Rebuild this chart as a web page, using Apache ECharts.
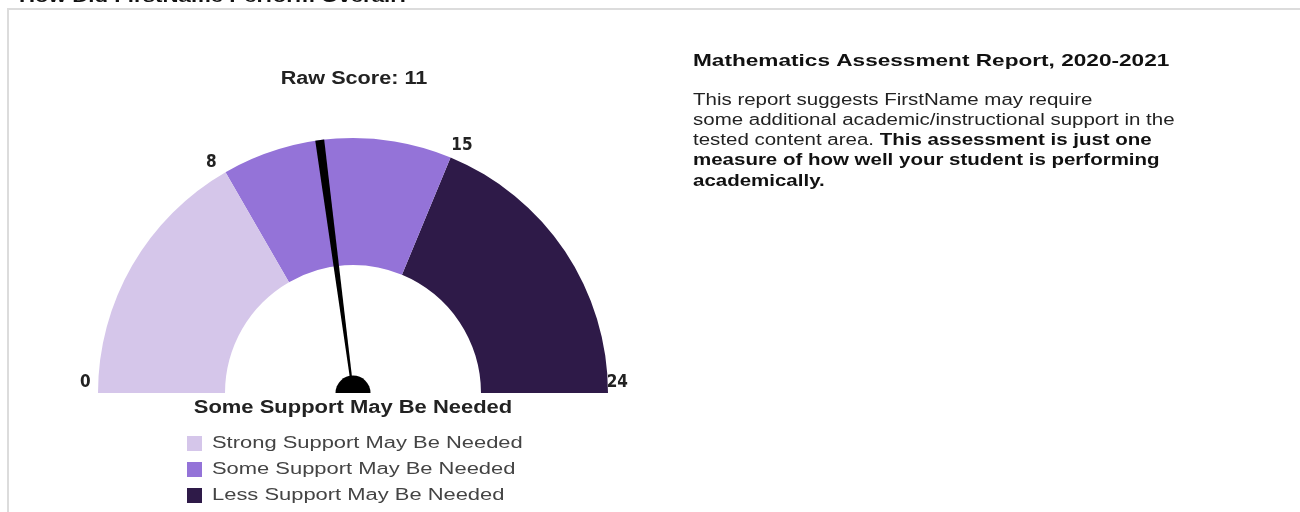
<!DOCTYPE html>
<html>
<head>
<meta charset="utf-8">
<title>How Did FirstName Perform Overall?</title>
<script src="https://cdn.jsdelivr.net/npm/echarts@6/dist/echarts.min.js"></script>
<style>
  html, body { margin: 0; padding: 0; background: #fff; }
  #chart { width: 1300px; height: 512px; }
</style>
</head>
<body>
<div id="chart"></div>
<script>
// performance bands, in score order
const categories = ['Strong Support May Be Needed', 'Some Support May Be Needed', 'Less Support May Be Needed']
const bandEdges = [0, 8, 15, 24]
const bandColors = ['#d5c6ea', '#9473d8', '#2e1a48']
const tickLabels = [0, 8, 15, 24]
const rawScore = 11

const reportTitle = 'Mathematics Assessment Report, 2020-2021'
const reportLines = [
  'This report suggests FirstName may require',
  'some additional academic/instructional support in the',
  'tested content area. {b|This assessment is just one}',
  '{b|measure of how well your student is performing}',
  '{b|academically.}'
]

const minScore = bandEdges[0]
const maxScore = bandEdges[bandEdges.length - 1]

// which band the score falls into
function bandOf(v) {
  for (let i = 1; i < bandEdges.length; i++) {
    if (v < bandEdges[i]) return i - 1
  }
  return bandEdges.length - 2
}

const sansFont = '"Liberation Sans", Arial, sans-serif'
const narrowFont = '"Liberation Sans Narrow", "DejaVu Sans Condensed", "Liberation Sans", sans-serif'

const labelStyle = { fontFamily: narrowFont, fontWeight: 'bold', fontSize: 17, color: '#222' }
const labelRich = {
  t0: Object.assign({ padding: [0, 0, 20, 21] }, labelStyle),
  t8: Object.assign({ padding: [16, 0, 0, 0] }, labelStyle),
  t15: Object.assign({ padding: [16, 7, 0, 0] }, labelStyle),
  t24: Object.assign({ padding: [0, 19, 20, 0] }, labelStyle)
}

const chart = echarts.init(document.getElementById('chart'), null, { renderer: 'canvas' })

const legendItems = categories.map((name, i) => ({
  type: 'group',
  x: 187,
  y: 436 + i * 26,
  children: [
    { type: 'rect', shape: { x: 0, y: 0, width: 15, height: 15 }, style: { fill: bandColors[i] } },
    {
      type: 'text', x: 25, y: 8, scaleX: 1.37,
      style: { text: name, font: '16px ' + sansFont, fill: '#444', align: 'left', verticalAlign: 'middle', textAlign: 'left', textVerticalAlign: 'middle' }
    }
  ]
}))

const option = {
  animation: false,
  backgroundColor: '#fff',
  graphic: [
    // page heading, mostly cut off at the top
    {
      type: 'text', x: 19, y: -3, scaleX: 1.31,
      style: { text: 'How Did FirstName Perform Overall?', font: 'bold 17px ' + sansFont, fill: '#111', align: 'left', verticalAlign: 'middle', textAlign: 'left', textVerticalAlign: 'middle' }
    },
    // panel border
    { type: 'polyline', shape: { points: [[8, 512], [8, 9], [1300, 9]] }, style: { stroke: '#dcdcdc', lineWidth: 2, fill: null } },
    {
      type: 'text', x: 354, y: 79, scaleX: 1.2,
      style: { text: 'Raw Score: ' + rawScore, font: 'bold 18px ' + sansFont, fill: '#222', align: 'center', verticalAlign: 'middle', textAlign: 'center', textVerticalAlign: 'middle' }
    },
    {
      type: 'text', x: 353, y: 408, scaleX: 1.22,
      style: { text: categories[bandOf(rawScore)], font: 'bold 18px ' + sansFont, fill: '#222', align: 'center', verticalAlign: 'middle', textAlign: 'center', textVerticalAlign: 'middle' }
    },
    ...legendItems,
    {
      type: 'text', x: 693, y: 61, scaleX: 1.33,
      style: { text: reportTitle, font: 'bold 17px ' + sansFont, fill: '#111', align: 'left', verticalAlign: 'middle', textAlign: 'left', textVerticalAlign: 'middle' }
    },
    {
      type: 'text', x: 693, y: 90, scaleX: 1.28,
      style: {
        text: reportLines.join('\n'),
        font: '16px ' + sansFont,
        fill: '#222',
        lineHeight: 20.3,
        align: 'left', verticalAlign: 'top', textAlign: 'left', textVerticalAlign: 'top',
        rich: { b: { fontWeight: 'bold', fontSize: 16, fontFamily: sansFont, fill: '#111', lineHeight: 20.3 } }
      }
    }
  ],
  series: [{
    type: 'gauge',
    center: [353, 393],
    radius: 255,
    startAngle: 180,
    endAngle: 0,
    min: minScore,
    max: maxScore,
    splitNumber: maxScore - minScore,
    axisLine: {
      lineStyle: {
        width: 127,
        color: bandEdges.slice(1).map((e, i) => [(e - minScore) / (maxScore - minScore), bandColors[i]])
      }
    },
    axisTick: { show: false },
    splitLine: { show: false, length: 0, distance: 0 },
    axisLabel: {
      distance: -39,
      formatter: v => tickLabels.includes(v) ? '{t' + v + '|' + v + '}' : '',
      rich: labelRich
    },
    pointer: {
      icon: 'path://M0,0 L10,0 L6,100 L4,100 Z',
      length: '100%',
      width: 9,
      itemStyle: { color: '#000' }
    },
    anchor: {
      show: true,
      showAbove: true,
      size: 35,
      icon: 'path://M0,50 A50,50 0 0 1 100,50 Z',
      keepAspect: true,
      offsetCenter: [0, -8.75],
      itemStyle: { color: '#000' }
    },
    title: { show: false },
    detail: { show: false },
    data: [{ value: rawScore, name: 'Raw Score' }]
  }]
}

chart.setOption(option)
window.addEventListener('resize', () => chart.resize())
</script>
</body>
</html>
